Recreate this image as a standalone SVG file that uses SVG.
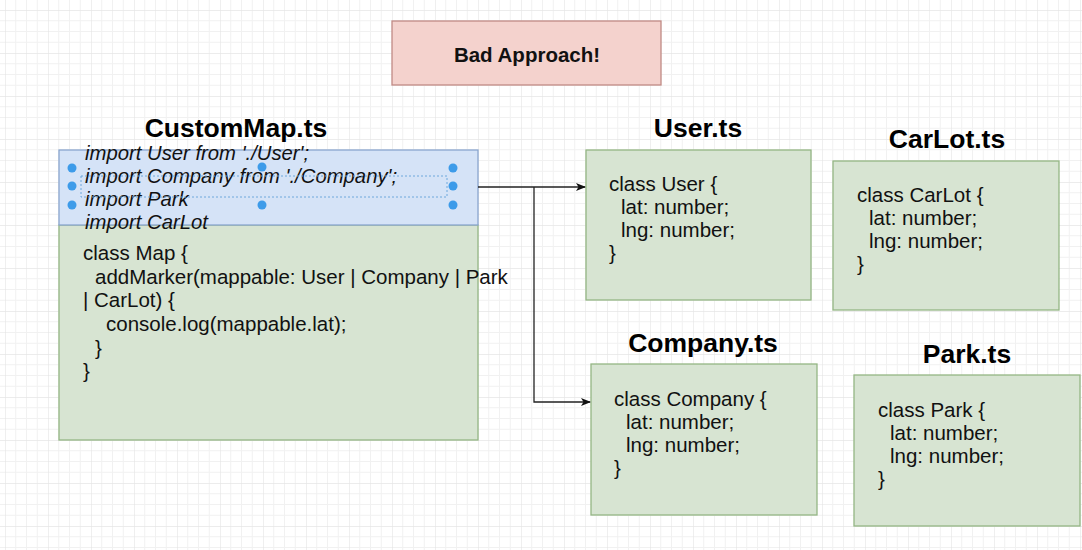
<svg xmlns="http://www.w3.org/2000/svg" width="1082" height="550" viewBox="0 0 1082 550">
<defs>
<pattern id="grid" x="5" y="10" width="43" height="43" patternUnits="userSpaceOnUse">
<path d="M10.75 0V43M21.5 0V43M32.25 0V43M0 10.75H43M0 21.5H43M0 32.25H43" stroke="#f1f1f1" stroke-width="1" fill="none"/>
<path d="M0 0V43M0 0H43" stroke="#e6e6e6" stroke-width="1.3" fill="none"/>
</pattern>
<marker id="arr" viewBox="0 0 10 10" refX="9" refY="5" markerWidth="10" markerHeight="10" markerUnits="userSpaceOnUse" orient="auto">
<path d="M0 1L10 5L0 9L2.5 5Z" fill="#111"/>
</marker>
<style>
.green{fill:#d7e4d2;stroke:#94b684;stroke-width:1.3}
.code{font-family:"Liberation Sans",Arial,sans-serif;font-size:20.5px;fill:#111}
.imp{font-family:"Liberation Sans",Arial,sans-serif;font-size:20.3px;font-style:italic;fill:#111}
.title{font-family:"Liberation Sans",Arial,sans-serif;font-size:26.5px;font-weight:bold;fill:#000;text-anchor:middle}
.handle{fill:#3d9be9}
.conn{fill:none;stroke:#222;stroke-width:1.3}
</style>
</defs>
<rect width="1082" height="550" fill="#fff"/>
<rect width="1082" height="550" fill="url(#grid)"/>

<g id="bad-approach">
<rect x="392" y="21" width="269" height="64" fill="#f4d2cd" stroke="#c08a85" stroke-width="1.3"/>
<text x="527" y="62" style="font-family:'Liberation Sans',Arial,sans-serif;font-size:20.5px;font-weight:bold;text-anchor:middle;fill:#111">Bad Approach!</text>
</g>

<g id="custommap">
<text class="title" x="236" y="137">CustomMap.ts</text>
<rect x="59" y="225" width="419" height="215" class="green"/>
<rect x="59" y="150" width="419" height="75" fill="#d5e3f7" stroke="#8aa6cf" stroke-width="1.3"/>
<text class="imp" x="85" y="160">import User from './User';</text>
<text class="imp" x="85" y="183">import Company from './Company';</text>
<text class="imp" x="85" y="206">import Park</text>
<text class="imp" x="85" y="229">import CarLot</text>
<rect x="81" y="176" width="366" height="21" fill="none" stroke="#6fa8dc" stroke-width="1" stroke-dasharray="2 2"/>
<g class="handle">
<circle cx="72" cy="168" r="4.5"/><circle cx="262" cy="167" r="4.5"/><circle cx="453" cy="168" r="4.5"/>
<circle cx="72" cy="186" r="4.5"/><circle cx="453" cy="186" r="4.5"/>
<circle cx="72" cy="205" r="4.5"/><circle cx="262" cy="205" r="4.5"/><circle cx="453" cy="205" r="4.5"/>
</g>
<text class="code" x="83" y="260">class Map {</text>
<text class="code" x="95" y="284">addMarker(mappable: User | Company | Park</text>
<text class="code" x="83" y="307">| CarLot) {</text>
<text class="code" x="106" y="331">console.log(mappable.lat);</text>
<text class="code" x="95" y="355">}</text>
<text class="code" x="83" y="378">}</text>
</g>

<g id="user">
<text class="title" x="698" y="137">User.ts</text>
<rect x="586" y="150" width="225" height="150" class="green"/>
<text class="code" x="609" y="191">class User {</text>
<text class="code" x="621" y="214">lat: number;</text>
<text class="code" x="621" y="237">lng: number;</text>
<text class="code" x="609" y="260">}</text>
</g>

<g id="carlot">
<text class="title" x="947" y="148">CarLot.ts</text>
<rect x="833" y="161" width="226" height="149" class="green"/>
<text class="code" x="857" y="202">class CarLot {</text>
<text class="code" x="869" y="225">lat: number;</text>
<text class="code" x="869" y="248">lng: number;</text>
<text class="code" x="857" y="271">}</text>
</g>

<g id="company">
<text class="title" x="703" y="352">Company.ts</text>
<rect x="591" y="364" width="226" height="151" class="green"/>
<text class="code" x="614" y="406">class Company {</text>
<text class="code" x="626" y="429">lat: number;</text>
<text class="code" x="626" y="452">lng: number;</text>
<text class="code" x="614" y="475">}</text>
</g>

<g id="park">
<text class="title" x="967" y="363">Park.ts</text>
<rect x="854" y="375" width="226" height="151" class="green"/>
<text class="code" x="878" y="417">class Park {</text>
<text class="code" x="890" y="440">lat: number;</text>
<text class="code" x="890" y="463">lng: number;</text>
<text class="code" x="878" y="486">}</text>
</g>

<g id="connectors">
<path class="conn" d="M478 187H585" marker-end="url(#arr)"/>
<path class="conn" d="M534 187V402H590" marker-end="url(#arr)"/>
</g>
</svg>
